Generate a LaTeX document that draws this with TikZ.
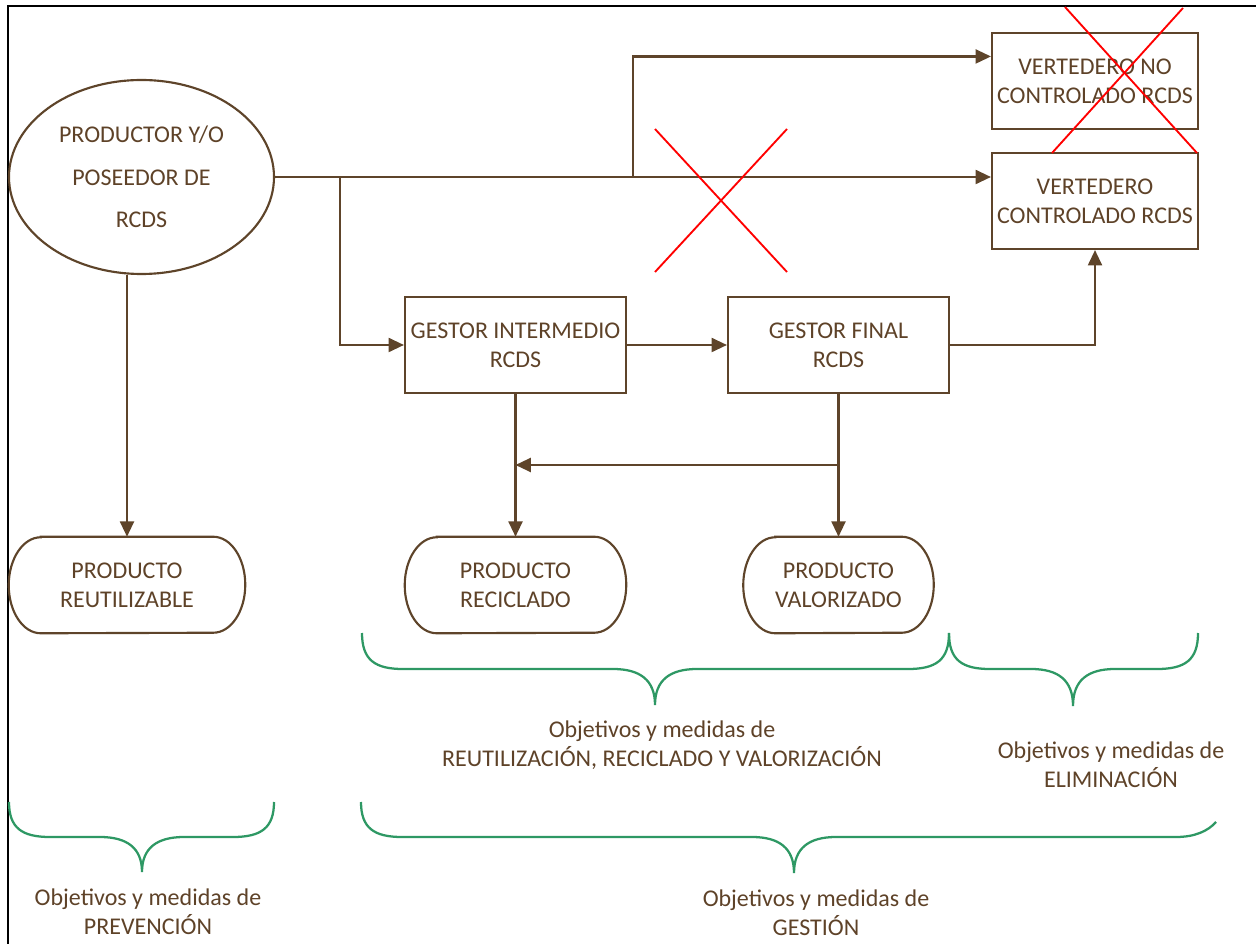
\documentclass[tikz,border=0pt]{standalone}
\usepackage{fontspec}
\setmainfont{Carlito}
\usetikzlibrary{arrows.meta,shapes.geometric,calc}
\definecolor{lnbrown}{RGB}{94,68,42}
\definecolor{txbrown}{RGB}{94,66,40}
\definecolor{brgreen}{RGB}{46,152,100}
\newdimen\upx
\upx=0.75pt
\newcommand\termoutline[1]{%
  \draw[lnbox] ([xshift=24pt]#1.north west) -- ([xshift=-24pt]#1.north east)
    arc[start angle=90,end angle=-90,x radius=24pt,y radius=36pt]
    -- ([xshift=24pt]#1.south west)
    arc[start angle=270,end angle=90,x radius=24pt,y radius=36pt] -- cycle;}
\begin{document}
\begin{tikzpicture}[x=0.75pt,y=-0.75pt,
  txt/.style={text=txbrown,font=\fontsize{18pt}{21.75pt}\selectfont,align=center,inner sep=0pt},
  lnbox/.style={draw=lnbrown,line width=1.6pt},
  box/.style={txt,lnbox,rectangle,minimum height=96\upx},
  term/.style={txt,rectangle,minimum height=96\upx},
  arr/.style={draw=lnbrown,line width=1.6pt,-{Triangle[length=11.5pt,width=10.5pt]}},
  redx/.style={draw=red,line width=1.4pt},
  gbr/.style={draw=brgreen,line width=1.7pt}]
\useasboundingbox (0,0) rectangle (1256,944);
% frame
\draw[black,line width=1.4pt] (8,944) -- (8,6) -- (1256,6);
% nodes
\node[txt,lnbox,ellipse,minimum width=265\upx,minimum height=194\upx,
  font=\fontsize{18pt}{32pt}\selectfont] (prod) at (141.5,177) {PRODUCTOR Y/O\\POSEEDOR DE\\RCDS};
\node[box,minimum width=206\upx] (vno) at (1095,81) {VERTEDERO NO\\CONTROLADO RCDS};
\node[box,minimum width=206\upx] (vc) at (1095,201) {VERTEDERO\\CONTROLADO RCDS};
\node[box,minimum width=221\upx] (gi) at (515.5,345) {GESTOR INTERMEDIO\\RCDS};
\node[box,minimum width=221\upx] (gf) at (838.5,345) {GESTOR FINAL\\RCDS};
\node[term,minimum width=236\upx] (preu) at (127,585) {PRODUCTO\\REUTILIZABLE};
\node[term,minimum width=221\upx] (prec) at (515.5,585) {PRODUCTO\\RECICLADO};
\node[term,minimum width=190\upx] (pval) at (838.5,585) {PRODUCTO\\VALORIZADO};
\termoutline{preu}
\termoutline{prec}
\termoutline{pval}
% connectors
\coordinate (j1) at (633,177);
\coordinate (j2) at (340,177);
\coordinate (j3) at (838.5,465);
\draw[arr] (prod.east) -- (prod.east -| vc.west);
\draw[arr] (j1) |- ($(vno.north west)!0.25!(vno.south west)$);
\draw[arr] (j2) |- (gi.west);
\draw[arr] (gi.east) -- (gf.west);
\draw[arr] (gf.east) -| (vc.south);
\draw[arr] (gi.south) -- (prec.north);
\draw[arr] (gf.south) -- (pval.north);
\draw[arr] (j3) -- (j3 -| gi.south);
\draw[arr] (prod.south -| preu.north) -- (preu.north);
% red crosses
\draw[redx] (655,129) -- (787,272);
\draw[redx] (787,129) -- (655,272);
\draw[redx] (1065,7) -- (1197,153);
\draw[redx] (1183,8) -- (1052,153);
% braces
\draw[gbr] (362,633) .. controls (362,660) and (375,669) .. (403,669) -- (613,669)
  .. controls (640,669) and (655,680) .. (655,705)
  .. controls (655,680) and (670,669) .. (697,669) -- (908,669)
  .. controls (936,669) and (949,660) .. (949,633);
\draw[gbr] (949,633) .. controls (949,660) and (962,669) .. (990,669) -- (1031,669)
  .. controls (1058,669) and (1073,680) .. (1073,706)
  .. controls (1073,680) and (1088,669) .. (1115,669) -- (1157,669)
  .. controls (1185,669) and (1198,660) .. (1198,633);
\draw[gbr] (9,802) .. controls (9,828) and (22,837) .. (50,837) -- (100,837)
  .. controls (127,837) and (142,848) .. (142,872)
  .. controls (142,848) and (157,837) .. (184,837) -- (233,837)
  .. controls (261,837) and (274,828) .. (274,802);
\draw[gbr] (361,802) .. controls (361,828) and (374,837) .. (402,837) -- (752,837)
  .. controls (779,837) and (794,848) .. (794,873)
  .. controls (794,848) and (809,837) .. (836,837) -- (1176,837)
  .. controls (1195,837) and (1208,831) .. (1216,822);
% labels
\node[txt] (lab1) at (662,745) {Objetivos y medidas de\\REUTILIZACIÓN, RECICLADO Y VALORIZACIÓN};
\node[txt] (lab2) at (1111,765) {Objetivos y medidas de\\ELIMINACIÓN};
\node[txt] (lab3) at (148,912) {Objetivos y medidas de\\PREVENCIÓN};
\node[txt] (lab4) at (816,913) {Objetivos y medidas de\\GESTIÓN};
\end{tikzpicture}
\end{document}
